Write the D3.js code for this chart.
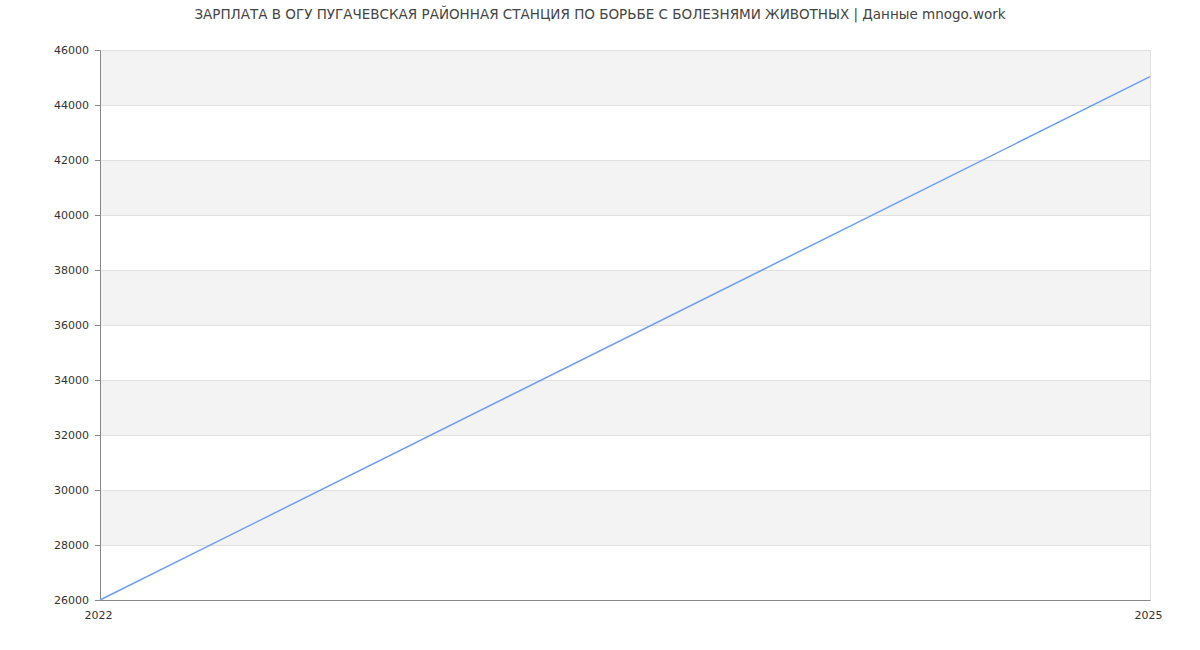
<!DOCTYPE html>
<html>
<head>
<meta charset="utf-8">
<script src="https://cdn.jsdelivr.net/npm/d3@7"></script>
<style>
  body { margin: 0; background: #fff; }
  text { font-family: "DejaVu Sans", sans-serif; }
</style>
</head>
<body>
<div id="viz"></div>
<script>
const width = 1200;
const height = 650;
const margin = {top: 50, right: 50, bottom: 50, left: 100};

// Data
const years = [2022, 2025];
const salaries = [26000, 45030];
const yTicks = [26000, 28000, 30000, 32000, 34000, 36000, 38000, 40000, 42000, 44000, 46000];
const title = 'ЗАРПЛАТА В ОГУ ПУГАЧЕВСКАЯ РАЙОННАЯ СТАНЦИЯ ПО БОРЬБЕ С БОЛЕЗНЯМИ ЖИВОТНЫХ | Данные mnogo.work';

const data = years.map((y, i) => ({year: y, value: salaries[i]}));

const svg = d3.select('#viz')
  .append('svg')
  .attr('width', width)
  .attr('height', height);

const xScale = d3.scaleLinear()
  .domain(d3.extent(years))
  .range([margin.left, width - margin.right]);

const yScale = d3.scaleLinear()
  .domain([yTicks[0], yTicks[yTicks.length - 1]])
  .range([height - margin.bottom, margin.top]);

// Alternating bands, grey from the top down
const bands = d3.pairs(yTicks).filter((d, i) => i % 2 === 1);
svg.append('g')
  .selectAll('rect')
  .data(bands)
  .join('rect')
    .attr('x', margin.left)
    .attr('width', width - margin.right - margin.left)
    .attr('y', d => yScale(d[1]))
    .attr('height', d => yScale(d[0]) - yScale(d[1]))
    .attr('fill', '#f3f3f3');

// Grid lines
svg.append('g')
  .selectAll('line')
  .data(yTicks)
  .join('line')
    .attr('x1', margin.left)
    .attr('x2', width - margin.right)
    .attr('y1', d => yScale(d) + 0.5)
    .attr('y2', d => yScale(d) + 0.5)
    .attr('stroke', '#e0e0e0');

// Right border
svg.append('line')
  .attr('x1', width - margin.right + 0.5)
  .attr('x2', width - margin.right + 0.5)
  .attr('y1', margin.top)
  .attr('y2', height - margin.bottom)
  .attr('stroke', '#e0e0e0');

// Y axis
const yAxis = svg.append('g')
  .attr('transform', `translate(${margin.left}, 0)`)
  .call(d3.axisLeft(yScale)
    .tickValues(yTicks)
    .tickSize(5)
    .tickPadding(6)
    .tickFormat(d3.format('d')));
yAxis.select('.domain').attr('stroke', '#888');
yAxis.selectAll('.tick line').attr('stroke', '#888');
yAxis.selectAll('.tick text')
  .attr('fill', '#333')
  .style('font-size', '11px')
  .style('font-family', '"DejaVu Sans", sans-serif');

// X axis
const xAxis = svg.append('g')
  .attr('transform', `translate(0, ${height - margin.bottom})`)
  .call(d3.axisBottom(xScale)
    .tickValues(years)
    .tickSize(0)
    .tickPadding(11)
    .tickFormat(d3.format('d')));
xAxis.select('.domain').attr('stroke', '#888');
xAxis.selectAll('.tick text')
  .attr('fill', '#333')
  .attr('dx', -2)
  .style('font-size', '11px')
  .style('font-family', '"DejaVu Sans", sans-serif');

// Line
const line = d3.line()
  .x(d => xScale(d.year))
  .y(d => yScale(d.value));

svg.append('path')
  .datum(data)
  .attr('d', line)
  .attr('fill', 'none')
  .attr('stroke', '#6f9ef0')
  .attr('stroke-width', 1.5);

// Title
svg.append('text')
  .attr('x', width / 2)
  .attr('y', 18.5)
  .attr('text-anchor', 'middle')
  .attr('fill', '#444')
  .style('font-size', '13.5px')
  .text(title);
</script>
</body>
</html>
